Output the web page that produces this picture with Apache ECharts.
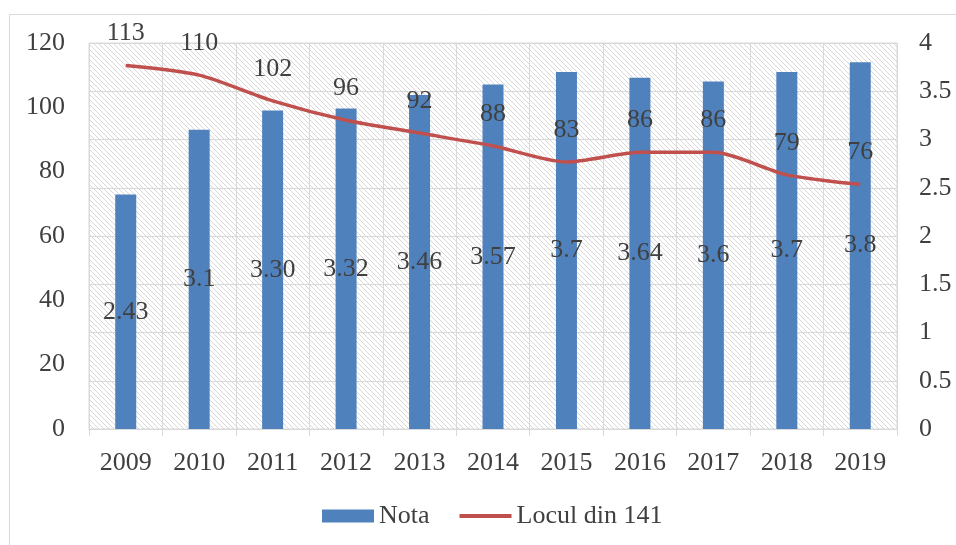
<!DOCTYPE html>
<html>
<head>
<meta charset="utf-8">
<style>
  html, body { margin: 0; padding: 0; background: #fff; }
  #chart { width: 956px; height: 545px; }
</style>
<script src="https://cdn.jsdelivr.net/npm/echarts@6/dist/echarts.min.js"></script>
</head>
<body>
<div id="chart"></div>
<script>
// data
const years = ["2009", "2010", "2011", "2012", "2013", "2014", "2015", "2016", "2017", "2018", "2019"];
const nota = [2.43, 3.1, 3.30, 3.32, 3.46, 3.57, 3.7, 3.64, 3.6, 3.7, 3.8];
const notaLabels = ["2.43", "3.1", "3.30", "3.32", "3.46", "3.57", "3.7", "3.64", "3.6", "3.7", "3.8"];
const locul = [113, 110, 102, 96, 92, 88, 83, 86, 86, 79, 76];

const font = '"Liberation Serif", "Times New Roman", serif';
const textColor = "#404040";
const lineGray = "#d9d9d9";

// light diagonal hatch for the plot area
function hatch() {
  const c = document.createElement("canvas");
  c.width = 5;
  c.height = 5;
  const ctx = c.getContext("2d");
  ctx.fillStyle = "#fff";
  ctx.fillRect(0, 0, 5, 5);
  ctx.fillStyle = "#d8d8d8";
  for (let i = 0; i < 5; i++) {
    ctx.fillRect(i, i, 1, 1);
  }
  return { image: c, repeat: "repeat" };
}

const chart = echarts.init(document.getElementById("chart"));

chart.setOption({
  animation: false,
  textStyle: { fontFamily: font },
  graphic: [{
    type: "rect",
    shape: { x: 9.5, y: 14.5, width: 1000, height: 600 },
    style: { fill: "none", stroke: lineGray, lineWidth: 1 },
    silent: true
  }],
  grid: {
    left: 89,
    right: 59,
    top: 43,
    bottom: 116,
    show: true,
    backgroundColor: hatch(),
    borderColor: lineGray,
    borderWidth: 1
  },
  legend: {
    left: 322,
    top: 503,
    padding: 0,
    itemGap: 28,
    itemWidth: 52,
    itemHeight: 13,
    textStyle: { color: textColor, fontSize: 26, fontFamily: font },
    data: [
      { name: "Nota", icon: "rect" },
      { name: "Locul din 141", itemStyle: { opacity: 0 }, lineStyle: { width: 4 } }
    ]
  },
  xAxis: {
    type: "category",
    data: years,
    boundaryGap: true,
    axisLine: { lineStyle: { color: lineGray, width: 1 } },
    axisTick: { show: true, length: 7, lineStyle: { color: lineGray } },
    axisLabel: { color: textColor, fontSize: 26, margin: 21, fontFamily: font },
    splitLine: { show: true, lineStyle: { color: lineGray, width: 1 } }
  },
  yAxis: [
    {
      type: "value",
      min: 0,
      max: 120,
      interval: 20,
      axisLine: { show: false },
      axisTick: { show: false },
      axisLabel: { color: textColor, fontSize: 26, margin: 24, fontFamily: font },
      splitLine: { show: false }
    },
    {
      type: "value",
      min: 0,
      max: 4,
      interval: 0.5,
      position: "right",
      axisLine: { show: false },
      axisTick: { show: false },
      axisLabel: { color: textColor, fontSize: 26, margin: 22, fontFamily: font },
      splitLine: { show: true, lineStyle: { color: lineGray, width: 1 } }
    }
  ],
  series: [
    {
      name: "Nota",
      type: "bar",
      yAxisIndex: 1,
      data: nota,
      barWidth: 21,
      itemStyle: { color: "#4F81BD" },
      label: {
        show: true,
        position: "inside",
        color: "#404040",
        fontSize: 26,
        fontFamily: font,
        formatter: (p) => notaLabels[p.dataIndex]
      },
      z: 2
    },
    {
      name: "Locul din 141",
      type: "line",
      yAxisIndex: 0,
      data: locul,
      smooth: 0.25,
      symbol: "circle",
      symbolSize: 0,
      showSymbol: true,
      lineStyle: { color: "#C0504D", width: 3.5 },
      itemStyle: { color: "#C0504D" },
      label: {
        show: true,
        position: "top",
        distance: 19,
        color: "#404040",
        fontSize: 26,
        fontFamily: font
      },
      z: 3
    }
  ]
});
</script>
</body>
</html>
